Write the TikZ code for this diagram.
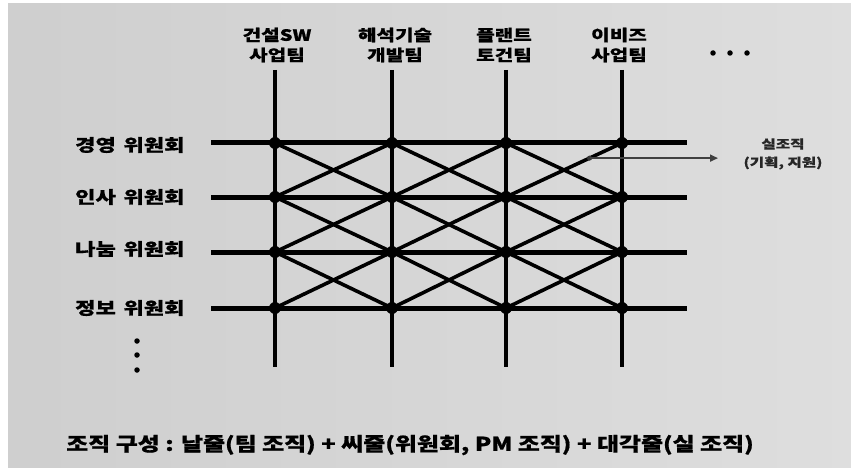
\documentclass[tikz,border=0pt]{standalone}
\usepackage{fontspec}
\newfontfamily\kr{Noto Sans CJK KR}[FakeStretch=1.3,FakeBold=0.6]
\newfontfamily\krcap{Noto Sans CJK KR}[FakeStretch=1.26,FakeBold=0.8]
\usetikzlibrary{arrows.meta,calc}
\begin{document}
\begin{tikzpicture}[x=1pt,y=-1pt,
  teamline/.style={line width=4.6pt,black},
  rowline/.style={line width=5pt,black},
  diagline/.style={line width=3.6pt,black},
  jdot/.style={circle,fill=black,inner sep=0pt,minimum size=12pt},
  smalldot/.style={circle,fill=black,inner sep=0pt,minimum size=5.5pt},
  lbl/.style={font=\kr\bfseries\fontsize{15.5}{17}\selectfont,text=black,inner sep=0pt,align=center},
  rowlbl/.style={font=\kr\bfseries\fontsize{17}{19}\selectfont,text=black,inner sep=0pt,anchor=west},
  notelbl/.style={font=\kr\bfseries\fontsize{12}{14}\selectfont,text=black!85,inner sep=0pt},
  arrowline/.style={line width=1.6pt,black!75,-{Triangle[length=8pt,width=7pt]}}
]
\useasboundingbox (0,0) rectangle (851,468);
\fill[white] (0,0) rectangle (851,468);
\shade[left color=black!19,right color=black!13] (8,4) rectangle (851,468);

% grid coordinates
\foreach \c/\x in {1/275,2/392,3/506,4/622}{
  \coordinate (t\c) at (\x,70);
  \coordinate (b\c) at (\x,367);
  \foreach \r/\y in {1/143,2/197,3/252,4/308}{
    \coordinate (p\r\c) at (\x,\y);
  }
}
\foreach \r/\y in {1/143,2/197,3/252,4/308}{
  \coordinate (l\r) at (211,\y);
  \coordinate (r\r) at (687,\y);
}

% diagonals
\foreach \r [evaluate=\r as \rn using int(\r+1)] in {1,2,3}{
  \foreach \c [evaluate=\c as \cn using int(\c+1)] in {1,2,3}{
    \draw[diagline] (p\r\c) -- (p\rn\cn);
    \draw[diagline] (p\rn\c) -- (p\r\cn);
  }
}
% committee lines
\foreach \r in {1,2,3,4}{ \draw[rowline] (l\r) -- (r\r); }
% team lines
\foreach \c in {1,2,3,4}{ \draw[teamline] (t\c) -- (b\c); }
% junction dots
\foreach \r in {1,2,3,4}{
  \foreach \c in {1,2,3,4}{ \node[jdot] (d\r\c) at (p\r\c) {}; }
}

% team labels
\node[lbl] (team1) at (277,45) {건설SW\\[3pt]사업팀};
\node[lbl] (team2) at (395,45) {해석기술\\[3pt]개발팀};
\node[lbl] (team3) at (504,45) {플랜트\\[3pt]토건팀};
\node[lbl] (team4) at (619,45) {이비즈\\[3pt]사업팀};
\node[smalldot] (hd1) at (713,53) {};
\node[smalldot] (hd2) at (730,53) {};
\node[smalldot] (hd3) at (747,53) {};

% committee labels
\node[rowlbl] (com1) at (75,145) {경영\hspace{0.45em}위원회};
\node[rowlbl] (com2) at (75,197) {인사\hspace{0.45em}위원회};
\node[rowlbl] (com3) at (75,249) {나눔\hspace{0.45em}위원회};
\node[rowlbl] (com4) at (75,308) {정보\hspace{0.45em}위원회};
\node[smalldot] (vd1) at (137,341) {};
\node[smalldot] (vd2) at (137,355) {};
\node[smalldot] (vd3) at (137,370) {};

% staff arrow
\coordinate (as) at ($(p23)!0.72!(p14)$);
\coordinate (ae) at (718,158);
\node[circle,fill=black!80,inner sep=0pt,minimum size=5pt] (adot) at (as) {};
\draw[arrowline] (as) -- (as -| ae);
\node[notelbl] (staff1) at (783,144) {실조직};
\node[notelbl] (staff2) at (783,163) {(기획, 지원)};

% caption
\node[font=\krcap\bfseries\fontsize{19}{22}\selectfont,inner sep=0pt] (caption) at (410,445)
  {조직 구성 : 날줄(팀 조직) + 씨줄(위원회, PM 조직) + 대각줄(실 조직)};
\end{tikzpicture}
\end{document}
